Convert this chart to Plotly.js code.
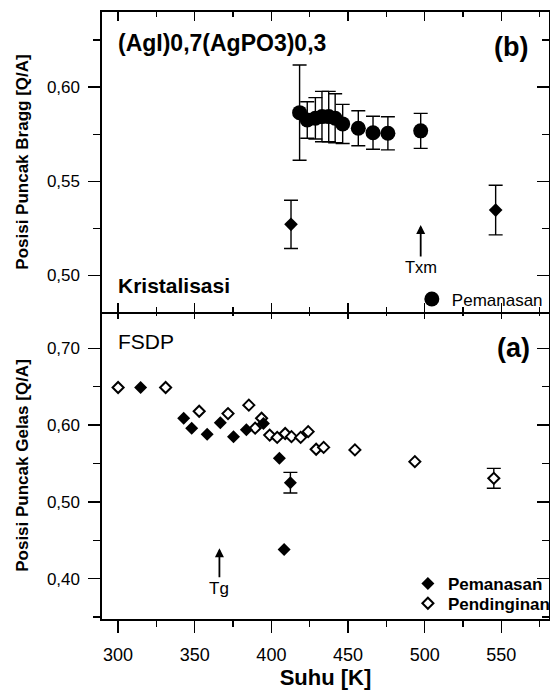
<!DOCTYPE html>
<html>
<head>
<meta charset="utf-8">
<script src="https://cdn.plot.ly/plotly-3.0.1.min.js"></script>
<style>html,body{margin:0;padding:0;background:#fff;overflow:hidden;}</style>
</head>
<body>
<div id="chart"></div>
<script>
// ---- Panel (b): Bragg peak position (crystallisation) ----
const tempBraggHeat = [418.4, 423.4, 428.7, 433.0, 437.4, 441.6, 446.5, 456.7, 466.3, 476.0, 497.4];
const qBraggHeat    = [0.5865, 0.5826, 0.5835, 0.5844, 0.5844, 0.5835, 0.5805, 0.5782, 0.5758, 0.5755, 0.5768];
const errBraggHeat  = [0.0253, 0.0097, 0.011, 0.0134, 0.0134, 0.013, 0.0104, 0.0093, 0.0088, 0.0088, 0.0093];

const tempBraggGlass = [412.8, 546.3];
const qBraggGlass    = [0.5271, 0.5347];
const errBraggGlass  = [0.0128, 0.0132];

// ---- Panel (a): FSDP glass peak position ----
const tempGlassHeat = [314.7, 342.8, 348.0, 358.1, 366.7, 375.3, 383.7, 394.8, 405.2, 412.4, 408.3];
const qGlassHeat    = [0.649, 0.609, 0.596, 0.588, 0.603, 0.585, 0.594, 0.602, 0.557, 0.525, 0.438];
const errGlassHeat  = [NaN, NaN, NaN, NaN, NaN, NaN, NaN, NaN, NaN, 0.0135, NaN];

const tempGlassCool = [300.0, 331.0, 352.9, 371.7, 385.3, 389.4, 393.6, 398.9, 403.8, 409.0, 413.1, 419.1, 424.0, 429.2, 434.1, 454.5, 493.6, 545.1];
const qGlassCool    = [0.649, 0.649, 0.618, 0.615, 0.626, 0.596, 0.609, 0.587, 0.584, 0.589, 0.585, 0.584, 0.5915, 0.5685, 0.571, 0.5677, 0.5524, 0.5307];
const errGlassCool  = [NaN, NaN, NaN, NaN, NaN, NaN, NaN, NaN, NaN, NaN, NaN, NaN, NaN, NaN, NaN, NaN, NaN, 0.013];

// ---- Axis ranges ----
const xRange = [289.5, 581.1];
const yRangeA = [0.3475, 0.7473];
const yRangeB = [0.4805, 0.640];

const FONT = 'Liberation Sans, Arial, Helvetica, sans-serif';
const BLACK = '#000';

function errBar(arr) {
  return {type: 'data', array: arr, visible: true, color: BLACK, thickness: 1.4, width: 7};
}

const traces = [
  { // panel b circles
    x: tempBraggHeat, y: qBraggHeat, xaxis: 'x2', yaxis: 'y2', mode: 'markers', type: 'scatter',
    name: 'Pemanasan', legend: 'legend',
    marker: {symbol: 'circle', size: 15, color: BLACK},
    error_y: errBar(errBraggHeat)
  },
  { // panel b diamonds
    x: tempBraggGlass, y: qBraggGlass, xaxis: 'x2', yaxis: 'y2', mode: 'markers', type: 'scatter',
    name: 'Gelas', showlegend: false,
    marker: {symbol: 'diamond', size: 10.5, color: BLACK},
    error_y: errBar(errBraggGlass)
  },
  { // panel a cooling (open)
    x: tempGlassCool, y: qGlassCool, xaxis: 'x', yaxis: 'y', mode: 'markers', type: 'scatter',
    name: 'Pendinginan', legend: 'legend3',
    marker: {symbol: 'diamond', size: 8.5, color: '#fff', line: {color: BLACK, width: 2}},
    error_y: errBar(errGlassCool)
  },
  { // panel a heating (filled)
    x: tempGlassHeat, y: qGlassHeat, xaxis: 'x', yaxis: 'y', mode: 'markers', type: 'scatter',
    name: 'Pemanasan', legend: 'legend2',
    marker: {symbol: 'diamond', size: 10, color: BLACK},
    error_y: errBar(errGlassHeat)
  },
  // empty helper traces so the mirror axes are drawn
  {x: [], y: [], xaxis: 'x3', yaxis: 'y', type: 'scatter', mode: 'markers', showlegend: false, hoverinfo: 'skip'},
  {x: [], y: [], xaxis: 'x', yaxis: 'y3', type: 'scatter', mode: 'markers', showlegend: false, hoverinfo: 'skip'},
  {x: [], y: [], xaxis: 'x2', yaxis: 'y4', type: 'scatter', mode: 'markers', showlegend: false, hoverinfo: 'skip'}
];

const L = 102, R = 555, T = 12, B = 619;
const W = R - L, H = B - T;
const px = v => (v - L) / W;
const py = v => (B - v) / H;
const split = py(312);

const axBase = {showgrid: false, zeroline: false, showline: true, linecolor: BLACK, linewidth: 1.6,
  tickcolor: BLACK, tickwidth: 1.5, fixedrange: true};

const layout = {
  width: 556, height: 692,
  margin: {l: L, r: 556 - R, t: T, b: 692 - B, pad: 0},
  paper_bgcolor: '#fff', plot_bgcolor: '#fff',
  separators: ',.',
  font: {family: FONT, color: BLACK, size: 17},
  showlegend: true,
  xaxis: Object.assign({}, axBase, {
    domain: [0, 1], anchor: 'y', range: xRange,
    tickmode: 'linear', tick0: 300, dtick: 50,
    ticks: 'outside', ticklen: 12,
    minor: {ticks: 'outside', dtick: 25, ticklen: 6, tickwidth: 1.5, tickcolor: BLACK},
    tickfont: {size: 18, family: FONT}, ticklabelstandoff: 7,
    title: {text: 'Suhu [K]', font: {size: 22, weight: 'bold', family: FONT}, standoff: 4}
  }),
  xaxis2: Object.assign({}, axBase, {
    domain: [0, 1], anchor: 'y2', range: xRange,
    tickmode: 'linear', tick0: 300, dtick: 50,
    ticks: 'inside', ticklen: 9, mirror: 'ticks',
    minor: {ticks: 'inside', dtick: 25, ticklen: 5, tickwidth: 1.5, tickcolor: BLACK},
    showticklabels: false
  }),
  xaxis3: Object.assign({}, axBase, {
    overlaying: 'x', anchor: 'y', side: 'top', range: xRange, showline: false,
    tickmode: 'linear', tick0: 300, dtick: 50,
    ticks: 'inside', ticklen: 7,
    minor: {ticks: 'inside', dtick: 25, ticklen: 4, tickwidth: 1.5, tickcolor: BLACK},
    showticklabels: false
  }),
  yaxis: Object.assign({}, axBase, {
    domain: [0, split], anchor: 'x', range: yRangeA,
    tickmode: 'linear', tick0: 0.4, dtick: 0.1, tickformat: '.2f',
    ticks: 'outside', ticklen: 12,
    minor: {ticks: 'outside', dtick: 0.05, ticklen: 7, tickwidth: 1.5, tickcolor: BLACK},
    tickfont: {size: 17, family: FONT}, ticklabelstandoff: 5,
    title: {text: 'Posisi Puncak Gelas [Q/A]', font: {size: 17, weight: 'bold', family: FONT}, standoff: 14}
  }),
  yaxis2: Object.assign({}, axBase, {
    domain: [split, 1], anchor: 'x2', range: yRangeB,
    tickmode: 'linear', tick0: 0.5, dtick: 0.05, tickformat: '.2f',
    ticks: 'outside', ticklen: 12,
    minor: {ticks: 'outside', dtick: 0.025, ticklen: 7, tickwidth: 1.5, tickcolor: BLACK},
    tickfont: {size: 17, family: FONT}, ticklabelstandoff: 5,
    title: {text: 'Posisi Puncak Bragg [Q/A]', font: {size: 17, weight: 'bold', family: FONT}, standoff: 14}
  }),
  yaxis3: Object.assign({}, axBase, {
    overlaying: 'y', anchor: 'x', side: 'right', range: yRangeA,
    tickmode: 'linear', tick0: 0.4, dtick: 0.1,
    ticks: 'inside', ticklen: 12,
    minor: {ticks: 'inside', dtick: 0.05, ticklen: 7, tickwidth: 1.5, tickcolor: BLACK},
    showticklabels: false
  }),
  yaxis4: Object.assign({}, axBase, {
    overlaying: 'y2', anchor: 'x2', side: 'right', range: yRangeB,
    tickmode: 'linear', tick0: 0.5, dtick: 0.05,
    ticks: 'inside', ticklen: 12,
    minor: {ticks: 'inside', dtick: 0.025, ticklen: 7, tickwidth: 1.5, tickcolor: BLACK},
    showticklabels: false
  }),
  legend: {x: px(416), y: py(299.5), xanchor: 'left', yanchor: 'middle', bgcolor: 'rgba(0,0,0,0)',
    borderwidth: 0, font: {size: 17, family: FONT}, itemclick: false, itemdoubleclick: false},
  legend2: {x: px(412), y: py(584), xanchor: 'left', yanchor: 'middle', bgcolor: 'rgba(0,0,0,0)',
    borderwidth: 0, font: {size: 17, family: FONT, weight: 'bold'}, itemclick: false, itemdoubleclick: false},
  legend3: {x: px(412), y: py(603.7), xanchor: 'left', yanchor: 'middle', bgcolor: 'rgba(0,0,0,0)',
    borderwidth: 0, font: {size: 17, family: FONT, weight: 'bold'}, itemclick: false, itemdoubleclick: false},
  annotations: [
    {text: '(AgI)0,7(AgPO3)0,3', xref: 'paper', yref: 'paper', x: px(116), y: py(43), xanchor: 'left', yanchor: 'middle',
      showarrow: false, font: {size: 23, weight: 'bold', family: FONT}},
    {text: '(b)', xref: 'paper', yref: 'paper', x: px(516.5), y: py(46.7), xanchor: 'center', yanchor: 'middle',
      showarrow: false, font: {size: 27, weight: 'bold', family: FONT}},
    {text: 'Kristalisasi', xref: 'paper', yref: 'paper', x: px(116.5), y: py(285), xanchor: 'left', yanchor: 'middle',
      showarrow: false, font: {size: 21, weight: 'bold', family: FONT}},
    {text: 'FSDP', xref: 'paper', yref: 'paper', x: px(116), y: py(341.7), xanchor: 'left', yanchor: 'middle',
      showarrow: false, font: {size: 21, family: FONT}},
    {text: '(a)', xref: 'paper', yref: 'paper', x: px(519), y: py(347.5), xanchor: 'center', yanchor: 'middle',
      showarrow: false, font: {size: 27, weight: 'bold', family: FONT}},
    {text: 'Txm', xref: 'x2', yref: 'y2', x: 497.4, y: 0.5268, ax: 0, ay: 42,
      showarrow: true, arrowhead: 2, arrowsize: 1, arrowwidth: 1.8, arrowcolor: BLACK,
      font: {size: 16.5, family: FONT}},
    {text: 'Tg', xref: 'x', yref: 'y', x: 366.1, y: 0.4396, ax: 0, ay: 40,
      showarrow: true, arrowhead: 2, arrowsize: 1, arrowwidth: 1.8, arrowcolor: BLACK,
      font: {size: 17, family: FONT}}
  ]
};

Plotly.newPlot('chart', traces, layout, {staticPlot: true, displayModeBar: false});
</script>
</body>
</html>
